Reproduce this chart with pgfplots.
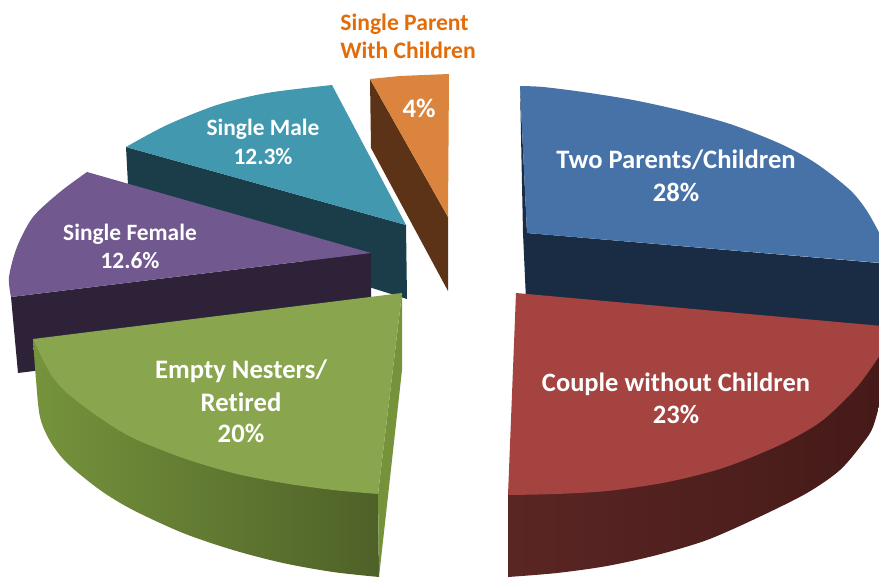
\documentclass[border=0pt]{standalone}
\usepackage{pgfplots}
\pgfplotsset{compat=1.18}
\usepackage{fontspec}
\setmainfont[Ligatures=NoCommon]{Carlito}
\definecolor{cblue}{HTML}{4672A8}
\definecolor{cnavy}{HTML}{1A2C44}
\definecolor{cred}{HTML}{A54341}
\definecolor{cdred}{HTML}{451A18}
\definecolor{cdred2}{HTML}{5A2624}
\definecolor{cdred3}{HTML}{491C1A}
\definecolor{cgreen}{HTML}{89A54E}
\definecolor{cgreen2}{HTML}{76933C}
\definecolor{cgreen3}{HTML}{4E6128}
\definecolor{cgreen4}{HTML}{76933C}
\definecolor{cgreen5}{HTML}{6B8438}
\definecolor{cpurple}{HTML}{71588F}
\definecolor{cdpurple}{HTML}{2E2238}
\definecolor{cteal}{HTML}{4198AF}
\definecolor{cdteal}{HTML}{1B3D4A}
\definecolor{corange}{HTML}{DB843D}
\definecolor{cbrown}{HTML}{5C3316}
\definecolor{clabel}{HTML}{E36C0A}
\begin{document}
\begin{tikzpicture}
\begin{axis}[scale only axis,width=879pt,height=577pt,xmin=0,xmax=879,ymin=0,ymax=577,y dir=reverse,hide axis,clip=true,
  every axis plot/.append style={draw=none,mark=none,forget plot,line join=round}]
% Two Parents/Children
\addplot[fill=cnavy] coordinates {(520,86)(523,233)(526,300)(879,340)(879,263)(527,233)} --cycle;
\addplot[fill=cblue,smooth] coordinates {(520,86)(543,87)(583,92)(633,100)(683,111)(733,125)(783,145)(817,164)(850,190)(867,211)(882,238)} -- (axis cs:882,263) -- (axis cs:527,233) --cycle;
% Single Male
\addplot[fill=cdteal] coordinates {(126,147)(406,225)(407,299)(372,288)(128,185)} --cycle;
\addplot[fill=cteal,smooth] coordinates {(126,147)(167,125)(217,105)(267,93)(332,85)} -- (axis cs:406,225) --cycle;
% Single Female
\addplot[fill=cdpurple] coordinates {(11,297)(371,253)(371,329)(18,373)} --cycle;
\addplot[fill=cpurple,smooth] coordinates {(11,297)(9,277)(17,247)(33,217)(60,192)(87,172)} -- (axis cs:371,253) --cycle;
% Single Parent
\addplot[fill=cbrown] coordinates {(370,79)(448,217)(448,291)(371,148)} --cycle;
\addplot[fill=corange] coordinates {(370,79)(400,76)(449,74)(448,217)} --cycle;
% Empty Nesters
\addplot[left color=cgreen2,middle color=cgreen5,right color=cgreen3,smooth] coordinates {(33,339)(36,380)(40,417)(50,441)(67,463)(100,490)(133,510)(183,533)(233,550)(283,563)(333,572)(379,577)} -- (axis cs:378,494) --cycle;
\addplot[fill=cgreen4] coordinates {(402,293)(402,370)(379,577)(378,494)} --cycle;
\addplot[fill=cgreen,smooth] coordinates {(33,339)(50,373)(67,393)(100,418)(133,438)(183,458)(233,473)(283,483)(333,490)(378,494)} -- (axis cs:402,293) --cycle;
% Couple without Children
\addplot[left color=cdred2,middle color=cdred3,right color=cdred,smooth] coordinates {(508,577)(557,573)(607,566)(657,555)(707,540)(757,518)(807,493)(840,470)(863,443)(873,427)(882,395)} -- (axis cs:882,352) -- (axis cs:508,495) --cycle;
\addplot[fill=cred,smooth] coordinates {(508,495)(557,494)(607,491)(657,484)(690,477)(723,468)(757,455)(790,440)(823,420)(857,387)(882,352)} -- (axis cs:882,326) -- (axis cs:516,293) --cycle;
% Labels
\def\lab#1#2#3#4{\node[text=#4,font=\fontsize{#3}{#3}\selectfont\bfseries,anchor=center,inner sep=0pt] at (axis cs:#1) {#2};}
\lab{676,160}{Two Parents/Children}{26.6pt}{white}
\lab{676,192}{28\%}{26.6pt}{white}
\lab{676,384}{Couple without Children}{26.5pt}{white}
\lab{676,414}{23\%}{26.5pt}{white}
\lab{241,371}{Empty Nesters/}{26.7pt}{white}
\lab{241,402}{Retired}{26.7pt}{white}
\lab{241,433}{20\%}{26.7pt}{white}
\lab{130,234}{Single Female}{23.4pt}{white}
\lab{130,261}{12.6\%}{23.4pt}{white}
\lab{263,129}{Single Male}{23.4pt}{white}
\lab{263,157}{12.3\%}{23.4pt}{white}
\lab{419,108}{4\%}{26.7pt}{white}
\lab{404.5,24}{Single Parent}{23.6pt}{clabel}
\lab{408,50}{With Children}{23.6pt}{clabel}
\path (axis cs:0,0) rectangle (axis cs:879,577);
\end{axis}
\end{tikzpicture}
\end{document}
